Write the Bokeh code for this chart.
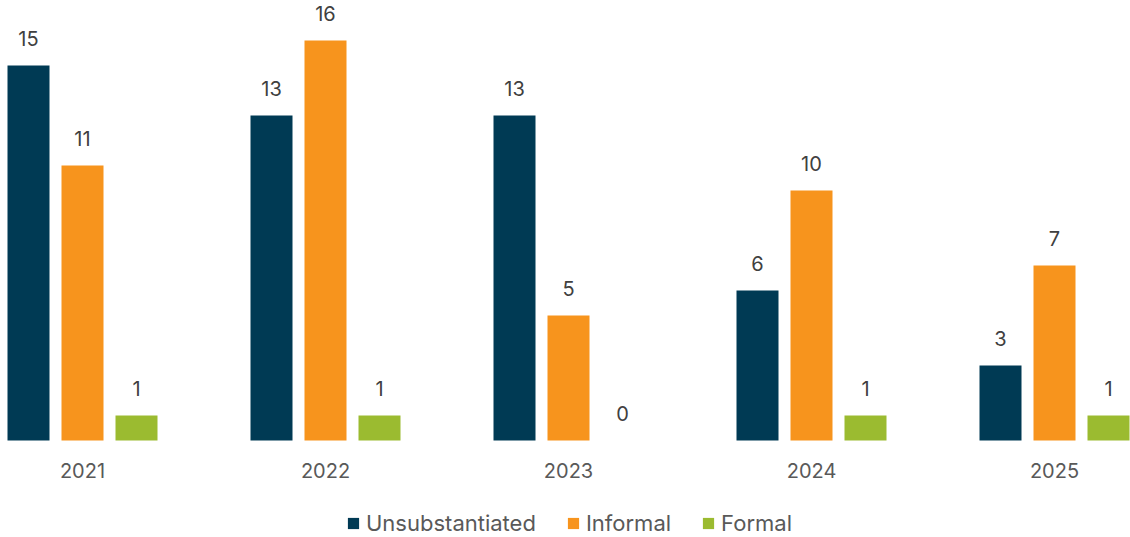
from bokeh.plotting import figure
from bokeh.models import (ColumnDataSource, FixedTicker, Legend, LegendItem,
                          Range1d, LinearAxis)
from bokeh.core.properties import value
from bokeh.embed import file_html
from bokeh.resources import INLINE

years = ["2021", "2022", "2023", "2024", "2025"]
series = ["Unsubstantiated", "Informal", "Formal"]
unsubstantiated = [15, 13, 13, 6, 3]
informal = [11, 16, 5, 10, 7]
formal = [1, 1, 0, 1, 1]
colors = ["#003A54", "#F7941D", "#9BBB30"]

FONT = "Inter"

p = figure(width=1130, height=537, output_backend="svg", toolbar_location=None,
           x_range=Range1d(-82 / 243, (1130 - 82) / 243),
           y_range=Range1d(-97 / 25, 17.6),
           x_axis_location=None, y_axis_location=None,
           min_border_left=0, min_border_right=0, min_border_top=0,
           min_border_bottom=0)
p.outline_line_color = None
p.grid.visible = False
p.background_fill_color = "white"

xs = list(range(len(years)))
width = 42 / 243
offsets = [-54 / 243, 0, 54 / 243]
vals = [unsubstantiated, informal, formal]
renderers = []
for vs, off, c in zip(vals, offsets, colors):
    src = ColumnDataSource(dict(x=[x + off for x in xs], top=vs,
                                lab=[str(v) for v in vs]))
    r = p.vbar(x="x", top="top", width=width, bottom=0, source=src,
               fill_color=c, line_color=None)
    renderers.append(r)
    p.text(x="x", y="top", text="lab", source=src, text_align="center",
           text_baseline="bottom", y_offset=-20, text_color="#404040",
           text_font=value(FONT), text_font_size="20px")

ax = LinearAxis(fixed_location=0)
ax.ticker = FixedTicker(ticks=xs)
ax.major_label_overrides = {i: y for i, y in enumerate(years)}
ax.axis_line_color = None
ax.major_tick_line_color = None
ax.minor_tick_line_color = None
ax.major_tick_in = 0
ax.major_tick_out = 0
ax.major_label_standoff = 22
ax.major_label_text_font = FONT
ax.major_label_text_font_size = "20px"
ax.major_label_text_color = "#595959"
p.add_layout(ax, "below")

legend = Legend(items=[LegendItem(label=s, renderers=[r]) for s, r in zip(series, renderers)],
                orientation="horizontal", location=(346, 1),
                label_text_font=FONT, label_text_font_size="22px",
                label_text_color="#595959", glyph_width=14, glyph_height=14,
                spacing=30, label_standoff=6, border_line_color=None,
                background_fill_alpha=0, padding=0, margin=0)
p.add_layout(legend, "center")

open("out.html", "w").write(file_html(p, INLINE))
